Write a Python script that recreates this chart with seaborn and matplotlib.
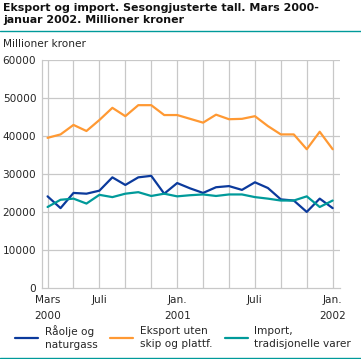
import pandas as pd
import numpy as np
import seaborn as sns
import matplotlib.pyplot as plt
from matplotlib.lines import Line2D
from matplotlib.ticker import MultipleLocator

# months Mars 2000 - januar 2002
months = pd.date_range("2000-03-01", "2002-01-01", freq="MS")

raolje = [24100, 21000, 25000, 24800, 25600, 29100, 27100, 29100, 29500, 24800, 27600, 26200,
          25000, 26500, 26800, 25800, 27800, 26300, 23300, 23000, 20000, 23500, 21000]
eksport = [39500, 40400, 42900, 41300, 44200, 47400, 45200, 48100, 48100, 45500, 45500, 44500,
           43500, 45600, 44400, 44500, 45200, 42600, 40400, 40400, 36500, 41100, 36500]
import_trad = [21300, 23200, 23500, 22200, 24500, 23900, 24800, 25200, 24200, 24800, 24100, 24400,
               24600, 24200, 24600, 24600, 23900, 23500, 23000, 23000, 24100, 21300, 23000]

series_names = ["Råolje og\nnaturgass", "Eksport uten\nskip og plattf.", "Import,\ntradisjonelle varer"]
colors = ["#0b3a9c", "#ff9933", "#009a9a"]

tick_pos = [0, 4, 10, 16, 22]
tick_labels = ["Mars\n2000", "Juli", "Jan.\n2001", "Juli", "Jan.\n2002"]

idx = np.arange(len(months))
df = pd.DataFrame({
    "m": np.tile(idx, 3),
    "verdi": raolje + eksport + import_trad,
    "serie": np.repeat(series_names, len(months)),
})

sns.set_style("white")
plt.rcParams["font.family"] = ["DejaVu Sans"]

fig = plt.figure(figsize=(3.61, 3.59), dpi=100)
ax = fig.add_axes([0.116, 0.198, 0.826, 0.635])

sns.lineplot(data=df, x="m", y="verdi", hue="serie", palette=colors,
             hue_order=series_names, linewidth=1.6, ax=ax, legend=False)

ax.set_xlim(-0.44, 22.57)
ax.set_ylim(0, 60000)
ax.yaxis.set_major_locator(MultipleLocator(10000))
ax.set_xticks(tick_pos)
ax.set_xticklabels(tick_labels, fontsize=7.6, linespacing=1.75)
ax.xaxis.set_minor_locator(MultipleLocator(1))
ax.tick_params(axis="y", labelsize=7.6, length=0, pad=4)
ax.tick_params(axis="x", which="both", direction="in", length=4, color="#c8c8c8", pad=5)
ax.set_xlabel("")
ax.set_ylabel("")

for v in range(10000, 60001, 10000):
    ax.axhline(v, color="#c8c8c8", lw=0.9, zorder=0)
for m in range(0, 23, 2):
    ax.axvline(m, color="#c8c8c8", lw=0.9, zorder=0)

for s in ["top", "right"]:
    ax.spines[s].set_visible(False)
for s in ["left", "bottom"]:
    ax.spines[s].set_color("#c8c8c8")
    ax.spines[s].set_linewidth(0.9)

fig.text(0.008, 0.992, "Eksport og import. Sesongjusterte tall. Mars 2000-\njanuar 2002. Millioner kroner",
         fontsize=7.9, fontweight="bold", va="top", ha="left", linespacing=1.25, color="#111111")
fig.add_artist(Line2D([0, 1], [0.914, 0.914], color="#009a9a", lw=1.0, transform=fig.transFigure))
fig.text(0.008, 0.878, "Millioner kroner", fontsize=7.6, va="center", ha="left")

handles = [Line2D([], [], color=c, lw=1.6) for c in colors]
leg = fig.legend(handles, series_names, loc="lower left", bbox_to_anchor=(0.03, 0.014), ncol=3,
                 frameon=False, fontsize=7.6, handlelength=2.2, columnspacing=1.2, handletextpad=0.6,
                 borderaxespad=0)
for t in leg.get_texts():
    t.set_linespacing(1.3)
fig.add_artist(Line2D([0, 1], [0.004, 0.004], color="#009a9a", lw=1.0, transform=fig.transFigure))

fig.savefig("out.png", dpi=100)
